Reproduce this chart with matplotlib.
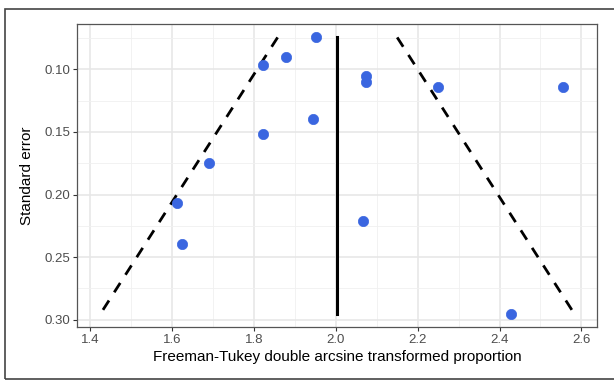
import numpy as np
import matplotlib.pyplot as plt
from matplotlib.patches import Rectangle
from matplotlib.ticker import MultipleLocator

plt.rcParams["font.family"] = ["Liberation Sans", "DejaVu Sans"]

# study estimates (Freeman-Tukey transformed) and their standard errors
ft_prop = [1.951, 1.879, 1.823, 2.075, 2.075, 2.249, 2.556, 1.944,
           1.823, 1.691, 1.612, 1.625, 2.067, 2.427]
std_err = [0.0745, 0.0899, 0.0966, 0.1051, 0.1101, 0.1139, 0.1139, 0.1394,
           0.1514, 0.1749, 0.2064, 0.2392, 0.2209, 0.2955]
pooled = 2.004

se_range = np.array([min(std_err), max(std_err)])

fig = plt.figure(figsize=(6.14, 3.80), dpi=100)
ax = fig.add_axes([77 / 614, 1 - 327 / 380, 520 / 614, 303 / 380])

# funnel
ax.plot([pooled, pooled], se_range, color="black", lw=2.2, zorder=3)
ax.plot(pooled - 1.96 * se_range, se_range, color="black", lw=2.0,
        dashes=(4, 3.5), zorder=3)
ax.plot(pooled + 1.96 * se_range, se_range, color="black", lw=2.0,
        dashes=(4, 3.5), zorder=3)

ax.scatter(ft_prop, std_err, s=55, color="#3a66e0", edgecolors="#3a66e0",
           linewidths=0.5, zorder=4)

ax.set_xlim(1.368, 2.638)
ax.set_ylim(0.3058, 0.0638)
ax.xaxis.set_minor_locator(MultipleLocator(0.1))
ax.yaxis.set_minor_locator(MultipleLocator(0.025))
ax.set_xticks([1.4, 1.6, 1.8, 2.0, 2.2, 2.4, 2.6])
ax.set_xticklabels(["1.4", "1.6", "1.8", "2.0", "2.2", "2.4", "2.6"])
ax.set_yticks([0.10, 0.15, 0.20, 0.25, 0.30])
ax.set_yticklabels(["0.10", "0.15", "0.20", "0.25", "0.30"])

ax.grid(which="major", color="#e6e6e6", lw=1.1)
ax.grid(which="minor", color="#f0f0f0", lw=0.6)
ax.set_axisbelow(True)
ax.tick_params(which="major", length=3, width=0.8, color="#333333",
               labelsize=9.5, labelcolor="#4d4d4d", pad=2)
ax.tick_params(which="minor", length=0)
for s in ax.spines.values():
    s.set_color("#555555")
    s.set_linewidth(0.9)

ax.set_xlabel("Freeman-Tukey double arcsine transformed proportion",
              fontsize=11, color="black", labelpad=3)
ax.set_ylabel("Standard error", fontsize=11, color="black", labelpad=7)

# outer frame
fig.patches.append(Rectangle((5 / 614, 1 / 380), 615 / 614, 370 / 380,
                             transform=fig.transFigure, fill=False,
                             edgecolor="#444444", lw=1.2))

fig.savefig("out.png", dpi=100)
